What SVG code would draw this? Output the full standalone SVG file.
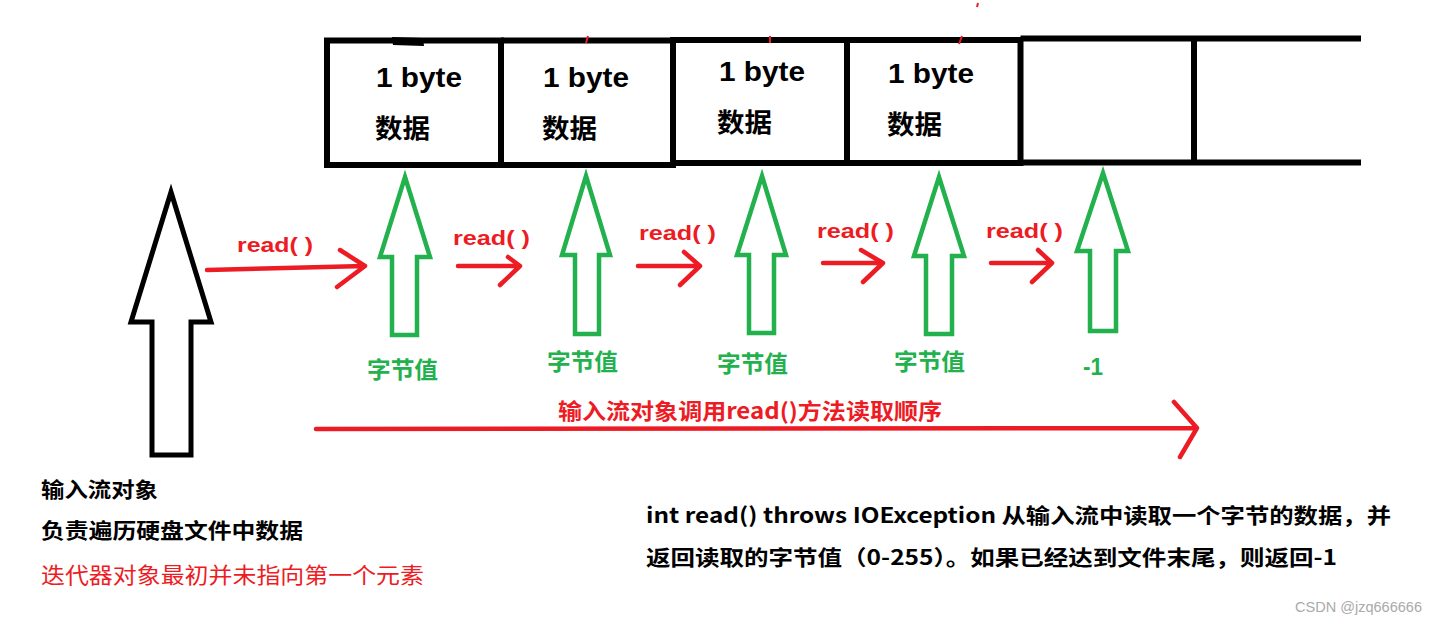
<svg xmlns="http://www.w3.org/2000/svg" width="1437" height="627" viewBox="0 0 1437 627">
<style>
.box{fill:none;stroke:#000;stroke-width:6}
.cell{font-family:"Liberation Sans","Noto Sans CJK SC",sans-serif;font-weight:bold;font-size:28px;fill:#000}
.cellcn{font-family:"Noto Sans CJK SC",sans-serif;font-weight:bold;font-size:26px;fill:#000}
.garrow{fill:#fff;stroke:#22b14c;stroke-width:4.5;stroke-linejoin:miter}
.barrow{fill:#fff;stroke:#000;stroke-width:5;stroke-linejoin:miter}
.red{fill:none;stroke:#ed1c24;stroke-width:4.5;stroke-linecap:round;stroke-linejoin:round}
.rlabel{font-family:"Liberation Sans",sans-serif;font-weight:bold;font-size:21px;fill:#ed1c24}
.glabel{font-family:"Noto Sans CJK SC",sans-serif;font-weight:bold;font-size:23px;fill:#22b14c}
.note{font-family:"Noto Sans CJK SC",sans-serif;font-weight:bold;font-size:21px;fill:#000}
</style>
<rect width="1437" height="627" fill="#fff"/>

<g id="buffer">
  <path class="box" d="M327,40.5 H501 V165 H327 Z"/>
  <path class="box" d="M501,40.5 H673 V165 H501"/>
  <path class="box" d="M673,40 H847 V163 H673 Z"/>
  <path class="box" d="M847,40 H1020.5 V163 H847"/>
  <path class="box" d="M1020.5,38.5 H1361 M1020.5,162.5 H1361 M1194,38.5 V162.5"/>
  <path d="M392,37 L423,38 L424,46 L393,45 Z" fill="#000"/>
  <path d="M588,36 L586,43 M770,36 L770,43 M962,36 L959,44 M978,3 L977,7" stroke="#ed1c24" stroke-width="2" fill="none"/>
</g>

<g id="cell1">
  <text class="cell" x="376" y="87" textLength="86" lengthAdjust="spacingAndGlyphs">1 byte</text>
  <text class="cellcn" x="375" y="138" textLength="55" lengthAdjust="spacingAndGlyphs">数据</text>
</g>
<g id="cell2">
  <text class="cell" x="543" y="87" textLength="86" lengthAdjust="spacingAndGlyphs">1 byte</text>
  <text class="cellcn" x="542" y="138" textLength="55" lengthAdjust="spacingAndGlyphs">数据</text>
</g>
<g id="cell3">
  <text class="cell" x="719" y="81" textLength="86" lengthAdjust="spacingAndGlyphs">1 byte</text>
  <text class="cellcn" x="717" y="132" textLength="55" lengthAdjust="spacingAndGlyphs">数据</text>
</g>
<g id="cell4">
  <text class="cell" x="888" y="83" textLength="86" lengthAdjust="spacingAndGlyphs">1 byte</text>
  <text class="cellcn" x="887" y="134" textLength="55" lengthAdjust="spacingAndGlyphs">数据</text>
</g>

<g id="stream-object">
  <polygon class="barrow" points="171,192 211,322 191,322 191,455 152,455 152,322 131,322"/>
  <text class="note" x="41" y="497" textLength="117" lengthAdjust="spacingAndGlyphs">输入流对象</text>
  <text class="note" x="41" y="538" textLength="262" lengthAdjust="spacingAndGlyphs">负责遍历硬盘文件中数据</text>
  <text x="41" y="583" textLength="383" lengthAdjust="spacingAndGlyphs" style="font-family:'Noto Sans CJK SC',sans-serif;font-size:22px;fill:#ed1c24">迭代器对象最初并未指向第一个元素</text>
</g>

<g id="read1">
  <polygon class="garrow" points="405,177 430,257 417,257 417,335 392,335 392,257 380,257"/>
  <text class="glabel" x="367" y="378" textLength="71" lengthAdjust="spacingAndGlyphs">字节值</text>
</g>
<g id="read2">
  <polygon class="garrow" points="586,176 610,255 599,255 599,334 575,334 575,255 562,255"/>
  <text class="glabel" x="547" y="370" textLength="71" lengthAdjust="spacingAndGlyphs">字节值</text>
</g>
<g id="read3">
  <polygon class="garrow" points="762,176 786,255 774,255 774,333 749,333 749,255 737,255"/>
  <text class="glabel" x="717" y="372" textLength="71" lengthAdjust="spacingAndGlyphs">字节值</text>
</g>
<g id="read4">
  <polygon class="garrow" points="939,177 964,256 952,256 952,334 926,334 926,256 914,256"/>
  <text class="glabel" x="894" y="370" textLength="71" lengthAdjust="spacingAndGlyphs">字节值</text>
</g>
<g id="eof">
  <polygon class="garrow" points="1103,173 1128,251 1116,251 1116,331 1090,331 1090,251 1077,251"/>
  <text class="glabel" x="1083" y="375" textLength="20" lengthAdjust="spacingAndGlyphs" style="font-family:'Liberation Sans',sans-serif">-1</text>
</g>

<g id="connectors">
  <path class="red" d="M207,270 L365,266 M340,250 L365,266 L337,287"/>
  <text class="rlabel" x="237" y="252" textLength="76" lengthAdjust="spacingAndGlyphs">read( )</text>
  <path class="red" d="M458,266 L520,266 M508,257 L520,266 L500,285"/>
  <text class="rlabel" x="453" y="245" textLength="77" lengthAdjust="spacingAndGlyphs">read( )</text>
  <path class="red" d="M638,266 L700,266 M684,252 L700,266 L680,285"/>
  <text class="rlabel" x="639" y="240" textLength="77" lengthAdjust="spacingAndGlyphs">read( )</text>
  <path class="red" d="M823,263 L883,263 M861,250 L883,263 L863,282"/>
  <text class="rlabel" x="817" y="238" textLength="77" lengthAdjust="spacingAndGlyphs">read( )</text>
  <path class="red" d="M991,263 L1052,263 M1038,250 L1052,263 L1032,282"/>
  <text class="rlabel" x="986" y="238" textLength="77" lengthAdjust="spacingAndGlyphs">read( )</text>
  <path class="red" d="M316,429 L1197,428 M1174,402 L1197,428 L1180,457"/>
  <text x="558" y="419" textLength="384" lengthAdjust="spacingAndGlyphs" style="font-family:'Noto Sans CJK SC',sans-serif;font-weight:bold;font-size:22px;fill:#ed1c24">输入流对象调用read()方法读取顺序</text>
</g>

<g id="description">
  <text class="note" x="646" y="523" textLength="745" lengthAdjust="spacingAndGlyphs">int read() throws IOException 从输入流中读取一个字节的数据，并</text>
  <text class="note" x="646" y="565" textLength="691" lengthAdjust="spacingAndGlyphs">返回读取的字节值（0-255）。如果已经达到文件末尾，则返回-1</text>
</g>

<text x="1295" y="612" textLength="127" lengthAdjust="spacingAndGlyphs" style="font-family:'Liberation Sans',sans-serif;font-size:14px;fill:#aaa">CSDN @jzq666666</text>
</svg>
